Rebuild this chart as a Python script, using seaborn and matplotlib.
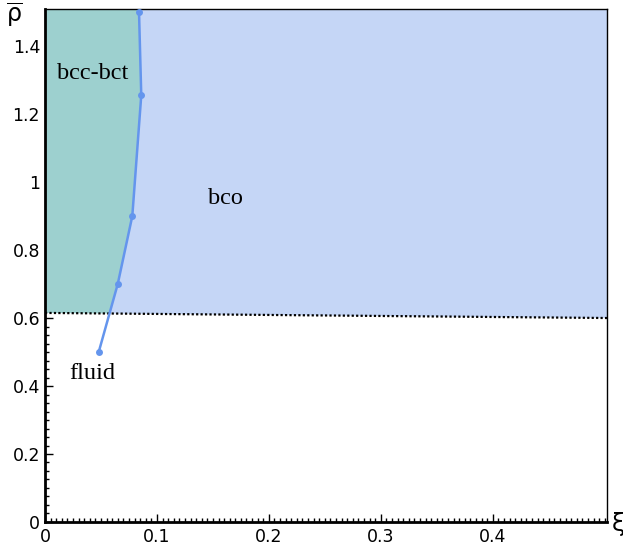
import numpy as np
import pandas as pd
import matplotlib.pyplot as plt
import seaborn as sns
from matplotlib.ticker import MultipleLocator, FixedLocator

# phase boundary (xi, rho)
xi = [0.048, 0.065, 0.078, 0.086, 0.084]
rho = [0.50, 0.70, 0.90, 1.255, 1.50]
# dotted line ends
dot_xi = [0.0, 0.502]
dot_rho = [0.615, 0.600]

region_labels = ['bcc-bct', 'bco', 'fluid']
label_xi = [0.043, 0.1615, 0.042]
label_rho = [1.32, 0.953, 0.438]

sns.set_style('ticks')
plt.rcParams['font.family'] = ['DejaVu Sans']
plt.rcParams['text.color'] = 'black'

fig = plt.figure(figsize=(6.23, 5.49), dpi=100)
ax = fig.add_axes([0.0722, 0.0492, 0.9021, 0.9344])

xmax, ymax = 0.502, 1.509
def dot_y(x):
    return np.interp(x, dot_xi, dot_rho)

# intersection of boundary with dotted line (between first two points)
x0, x1, y0, y1 = xi[0], xi[1], rho[0], rho[1]
t = (dot_y(x0) - y0) / ((y1 - y0) - (dot_y(x1) - dot_y(x0)))
xint = x0 + t * (x1 - x0)
yint = y0 + t * (y1 - y0)
upper = list(zip(xi[1:], rho[1:]))
top_x = xi[-1]

teal = [(0, dot_y(0)), (xint, yint)] + upper + [(top_x, ymax), (0, ymax)]
blue = [(xint, yint), (xmax, dot_y(xmax)), (xmax, ymax), (top_x, ymax)] + upper[::-1]
ax.fill(*zip(*teal), color='#9dd0cf', lw=0, zorder=1)
ax.fill(*zip(*blue), color='#c5d6f6', lw=0, zorder=1)

ax.plot(dot_xi, dot_rho, color='black', ls=(0, (1, 1)), lw=1.6, zorder=2)
df = pd.DataFrame({'xi': xi, 'rho': rho})
sns.lineplot(data=df, x='xi', y='rho', sort=False, color='#6495ed', lw=1.8,
             marker='o', markersize=5, markeredgewidth=0, ax=ax, zorder=3, clip_on=False)

for s, x, y in zip(region_labels, label_xi, label_rho):
    ax.text(x, y, s, ha='center', va='center', fontsize=17.5, family='Liberation Serif', color='black')

ax.set_xlim(0, xmax)
ax.set_ylim(0, ymax)
ax.set_xlabel('')
ax.set_ylabel('')
ax.xaxis.set_major_locator(FixedLocator([0, 0.1, 0.2, 0.3, 0.4]))
ax.xaxis.set_minor_locator(MultipleLocator(0.005))
ax.yaxis.set_major_locator(MultipleLocator(0.2))
ax.yaxis.set_minor_locator(MultipleLocator(0.025))
ax.xaxis.set_major_formatter(plt.FuncFormatter(lambda v, p: f'{v:g}'))
ax.yaxis.set_major_formatter(plt.FuncFormatter(lambda v, p: f'{v:g}'))
ax.tick_params(which='both', direction='in', top=False, right=False, labelsize=12.5, colors='black')
ax.tick_params(which='major', length=6, width=1)
ax.tick_params(which='minor', length=3, width=1)
ax.tick_params(axis='x', pad=4)
for side in ['left', 'bottom']:
    ax.spines[side].set_linewidth(2)
    ax.spines[side].set_color('black')
for side in ['right', 'top']:
    ax.spines[side].set_linewidth(1)
    ax.spines[side].set_color('black')
    ax.spines[side].set_visible(True)

fig.text(0.024, 0.972, r'$\overline{\mathrm{\rho}}$', fontsize=17, ha='center', va='center')
fig.text(0.982, 0.045, 'ξ', fontsize=17, ha='left', va='center')

fig.savefig('out.png', dpi=100)
